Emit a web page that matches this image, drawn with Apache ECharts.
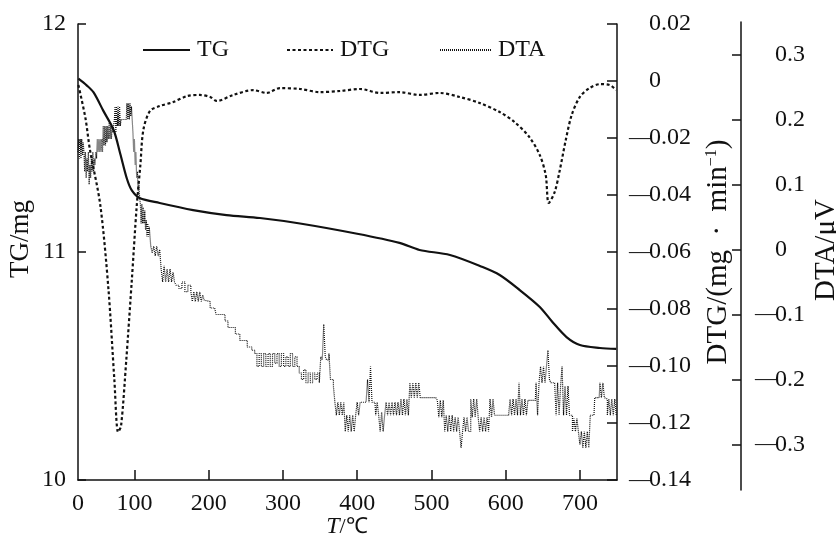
<!DOCTYPE html>
<html>
<head>
<meta charset="utf-8">
<script src="https://cdn.jsdelivr.net/npm/echarts@6/dist/echarts.min.js"></script>
<style>html,body{margin:0;padding:0;background:#fff}#c{width:836px;height:541px}</style>
</head>
<body>
<div id="c"></div>
<script>
// ---- data ----
const xTickLabels = [24, 100, 200, 300, 400, 500, 600, 700];
const tgT = [24.5, 36, 45, 58, 72, 81, 90, 96.5, 107, 134, 179, 224, 269, 323, 400, 457, 484, 525, 569, 592, 619, 646, 663, 682, 700, 727, 749];
const tgV = [11.76, 11.73, 11.70, 11.62, 11.535, 11.43, 11.32, 11.27, 11.237, 11.215, 11.184, 11.162, 11.149, 11.125, 11.08, 11.04, 11.009, 10.987, 10.934, 10.899, 10.833, 10.759, 10.693, 10.627, 10.592, 10.579, 10.575];
const dtgT = [24.5, 34, 40, 54, 65, 73, 78, 82, 89, 96.5, 103, 108, 112, 121, 134, 152, 171, 188, 202, 211, 233, 260, 278, 296, 323, 350, 377, 404, 431, 457, 484, 511, 538, 565, 592, 612, 632, 646, 654, 658, 666, 673, 681, 689, 700, 713, 727, 740, 749];
const dtgV = [-0.0014, -0.013, -0.024, -0.0435, -0.073, -0.105, -0.1232, -0.121, -0.098, -0.0698, -0.0442, -0.0295, -0.0172, -0.0105, -0.0088, -0.0074, -0.0053, -0.0049, -0.0056, -0.007, -0.0049, -0.0032, -0.0042, -0.0025, -0.0028, -0.0039, -0.0035, -0.0028, -0.0042, -0.0039, -0.0049, -0.0042, -0.0056, -0.0077, -0.0109, -0.0144, -0.0197, -0.026, -0.033, -0.0428, -0.039, -0.0312, -0.0207, -0.0119, -0.0056, -0.0025, -0.0011, -0.0014, -0.0032];
const dtaT = [24,25,26,27,28,29,30,31,32,33,34,35,36,37,38,39,40,41,42,43,44,45,46,47,48,49,50,51,52,53,54,55,56,57,58,59,60,61,62,63,64,65,66,67,68,69,70,71,73,74,75,76,77,78,79,80,81,82,83,89,90,91,92,93,94,95,96,97,98,99,100,101,102,103,104,105,106,107,108,109,110,111,112,113,114,115,116,117,118,119,120,121,122,124,126,128,130,132,134,136,138,140,142,144,146,148,150,152,154,156,160,164,168,172,176,178,180,182,184,186,188,190,192,194,196,202,208,210,216,222,226,232,236,242,248,252,258,262,265,268,271,274,277,280,283,286,289,292,295,298,301,304,307,310,313,316,319,322,325,328,331,334,337,340,343,346,349,351,353,355,357,359,362,364,368,370,372,374,376,378,380,382,384,386,388,390,392,394,396,398,400,402,404,412,414,416,418,420,424,425,427,429,431,433,435,437,439,441,443,445,447,449,451,453,455,457,459,461,463,465,467,469,471,473,475,477,479,481,483,485,487,506,508,510,512,514,516,518,520,522,524,526,528,530,532,534,536,538,540,542,544,546,548,550,553,555,557,559,561,563,565,567,569,571,573,575,577,579,581,583,585,604,606,608,610,612,614,616,618,620,622,624,626,628,630,640,641,643,645,647,649,651,653,655,657,659,661,666,668,670,672,674,676,678,680,682,684,686,688,690,692,694,696,698,700,702,704,706,708,710,712,714,719,720,726,727,729,731,733,735,737,739,741,743,745,747,749];
const dtaV = [0.15,0.17,0.14,0.17,0.14,0.17,0.145,0.165,0.15,0.12,0.15,0.11,0.14,0.12,0.15,0.10,0.13,0.11,0.14,0.12,0.15,0.12,0.14,0.13,0.15,0.14,0.17,0.15,0.17,0.15,0.17,0.15,0.17,0.15,0.19,0.16,0.19,0.16,0.19,0.165,0.19,0.17,0.195,0.17,0.19,0.17,0.19,0.18,0.20,0.22,0.18,0.22,0.19,0.22,0.19,0.22,0.19,0.20,0.20,0.20,0.225,0.20,0.225,0.20,0.225,0.205,0.22,0.20,0.18,0.15,0.17,0.13,0.15,0.11,0.12,0.09,0.10,0.08,0.07,0.04,0.07,0.04,0.065,0.04,0.06,0.03,0.045,0.02,0.04,0.02,0.035,0.02,0.005,-0.005,0.005,-0.01,0.005,-0.01,0.0,-0.03,-0.05,-0.025,-0.05,-0.03,-0.05,-0.03,-0.05,-0.035,-0.05,-0.055,-0.06,-0.05,-0.065,-0.055,-0.065,-0.08,-0.065,-0.08,-0.065,-0.08,-0.065,-0.08,-0.07,-0.078,-0.08,-0.09,-0.09,-0.10,-0.10,-0.11,-0.12,-0.12,-0.13,-0.14,-0.14,-0.15,-0.155,-0.16,-0.18,-0.16,-0.18,-0.16,-0.18,-0.16,-0.18,-0.16,-0.175,-0.16,-0.18,-0.16,-0.18,-0.165,-0.18,-0.16,-0.18,-0.165,-0.18,-0.19,-0.20,-0.185,-0.205,-0.19,-0.205,-0.19,-0.20,-0.19,-0.205,-0.165,-0.17,-0.115,-0.165,-0.17,-0.16,-0.20,-0.21,-0.235,-0.255,-0.235,-0.255,-0.235,-0.255,-0.235,-0.28,-0.255,-0.28,-0.255,-0.28,-0.255,-0.28,-0.255,-0.235,-0.255,-0.235,-0.235,-0.20,-0.235,-0.18,-0.235,-0.235,-0.255,-0.235,-0.255,-0.28,-0.25,-0.28,-0.255,-0.235,-0.255,-0.235,-0.255,-0.235,-0.255,-0.235,-0.255,-0.235,-0.255,-0.23,-0.255,-0.23,-0.255,-0.23,-0.255,-0.205,-0.228,-0.205,-0.228,-0.205,-0.228,-0.205,-0.228,-0.228,-0.228,-0.232,-0.258,-0.232,-0.258,-0.232,-0.28,-0.255,-0.28,-0.255,-0.28,-0.255,-0.28,-0.258,-0.28,-0.258,-0.28,-0.305,-0.28,-0.258,-0.28,-0.258,-0.28,-0.23,-0.258,-0.23,-0.258,-0.23,-0.258,-0.28,-0.258,-0.28,-0.258,-0.28,-0.258,-0.28,-0.23,-0.258,-0.23,-0.255,-0.255,-0.23,-0.255,-0.23,-0.255,-0.23,-0.255,-0.205,-0.255,-0.23,-0.255,-0.23,-0.255,-0.232,-0.232,-0.205,-0.255,-0.205,-0.18,-0.205,-0.18,-0.205,-0.18,-0.155,-0.20,-0.205,-0.205,-0.255,-0.205,-0.255,-0.21,-0.18,-0.255,-0.21,-0.255,-0.21,-0.255,-0.255,-0.28,-0.26,-0.28,-0.26,-0.28,-0.30,-0.28,-0.305,-0.28,-0.305,-0.28,-0.305,-0.255,-0.255,-0.228,-0.228,-0.205,-0.228,-0.205,-0.228,-0.23,-0.255,-0.23,-0.255,-0.23,-0.255,-0.23,-0.255];
const dtgTicks = [-0.14, -0.12, -0.10, -0.08, -0.06, -0.04, -0.02, 0, 0.02];
const dtaTicks = [-0.3, -0.2, -0.1, 0, 0.1, 0.2, 0.3];
const seriesNames = ['TG', 'DTG', 'DTA'];

const zip = (a, b) => a.map((v, i) => [v, b[i]]);
const FONT = 'Liberation Serif';
const fmtSigned = (d) => (v) => {
  const a = Math.abs(v);
  const s = a < 1e-9 ? '0' : a.toFixed(d);
  return v < -1e-9 ? '{m|—}{n|' + s + '}' : '{p| }{n|' + s + '}';
};
const signedRich = {
  m: { width: 20, fontSize: 22, fontFamily: FONT, color: '#111', align: 'left' },
  p: { width: 20, fontSize: 22, fontFamily: FONT },
  n: { fontSize: 24, fontFamily: FONT, color: '#111' }
};
const legendBase = { top: 38, padding: 0, itemHeight: 14, itemGap: 0,
  itemStyle: { opacity: 0 },
  textStyle: { fontSize: 24, fontFamily: FONT, color: '#111', padding: [0, 0, 0, 2] } };

const chart = echarts.init(document.getElementById('c'), null, { renderer: 'canvas' });
const axisLineStyle = { color: '#111', width: 1.5 };
chart.setOption({
  animation: false,
  backgroundColor: '#fff',
  grid: [
    { left: 78, right: 219, top: 24, bottom: 61 },
    { left: 78, right: 219, top: 22, bottom: 51 }
  ],
  legend: [
    Object.assign({}, legendBase, { data: [seriesNames[0]], left: 142, itemWidth: 47 }),
    Object.assign({}, legendBase, { data: [seriesNames[1]], left: 286, itemWidth: 46 }),
    Object.assign({}, legendBase, { data: [seriesNames[2]], left: 439, itemWidth: 51 })
  ],
  xAxis: [
    { type: 'value', gridIndex: 0, min: 24, max: 750,
      axisLine: { onZero: false, lineStyle: axisLineStyle },
      axisTick: { inside: true, length: 10, customValues: xTickLabels.slice(1), lineStyle: axisLineStyle },
      axisLabel: { customValues: xTickLabels, margin: 12, fontSize: 24, fontFamily: FONT, color: '#111',
        formatter: (v) => (v < 50 ? '0' : String(v)) },
      splitLine: { show: false } },
    { type: 'value', gridIndex: 1, min: 24, max: 750, show: false, axisLine: { onZero: false } }
  ],
  yAxis: [
    { type: 'value', gridIndex: 0, position: 'left', min: 10, max: 12, interval: 1,
      axisLine: { show: true, onZero: false, lineStyle: axisLineStyle },
      axisTick: { show: true, inside: true, length: 8, lineStyle: axisLineStyle },
      axisLabel: { margin: 12, fontSize: 24, fontFamily: FONT, color: '#111' },
      splitLine: { show: false } },
    { type: 'value', gridIndex: 0, position: 'right', min: -0.14, max: 0.02,
      axisLine: { show: true, onZero: false, lineStyle: axisLineStyle },
      axisTick: { show: true, inside: true, length: 10, customValues: dtgTicks, lineStyle: axisLineStyle },
      axisLabel: { customValues: dtgTicks, margin: 12, formatter: fmtSigned(2), rich: signedRich, align: 'left' },
      splitLine: { show: false } },
    { type: 'value', gridIndex: 1, position: 'right', offset: 124, min: -0.37, max: 0.35,
      axisLine: { show: true, onZero: false, lineStyle: axisLineStyle },
      axisTick: { show: true, inside: true, length: 9, customValues: dtaTicks, lineStyle: axisLineStyle },
      axisLabel: { customValues: dtaTicks, margin: 14, formatter: fmtSigned(1), rich: signedRich, align: 'left' },
      splitLine: { show: false } }
  ],
  series: [
    { name: seriesNames[0], type: 'line', xAxisIndex: 0, yAxisIndex: 0, data: zip(tgT, tgV),
      smooth: 0.3, symbol: 'none', lineStyle: { color: '#111', width: 2.2 }, itemStyle: { color: '#111' }, z: 5 },
    { name: seriesNames[1], type: 'line', xAxisIndex: 0, yAxisIndex: 1, data: zip(dtgT, dtgV),
      smooth: 0.3, symbol: 'none', lineStyle: { color: '#111', width: 2.2, type: [3, 2.5] }, itemStyle: { color: '#111' }, z: 4 },
    { name: seriesNames[2], type: 'line', xAxisIndex: 1, yAxisIndex: 2, data: zip(dtaT, dtaV),
      step: 'end', symbol: 'none', lineStyle: { color: '#111', width: 1.2, type: [1, 1] }, itemStyle: { color: '#111' }, z: 3 }
  ],
  graphic: [
    { type: 'text', x: 21, y: 239, rotation: Math.PI / 2,
      style: { text: 'TG/mg', fontSize: 27, fontFamily: FONT, fill: '#111', align: 'center', verticalAlign: 'middle' } },
    { type: 'text', x: 347, y: 527,
      style: { text: '{i|T}/℃', fill: '#111', align: 'center', verticalAlign: 'middle', fontSize: 22, fontFamily: FONT,
        rich: { i: { fontStyle: 'italic', fontSize: 24, fontFamily: FONT } } } },
    { type: 'text', x: 718, y: 252, rotation: Math.PI / 2,
      style: { text: 'DTG/(mg\u2002·\u2002min{s|−1})', fill: '#111', align: 'center', verticalAlign: 'middle', fontSize: 29, fontFamily: FONT,
        rich: { s: { fontSize: 16, fontFamily: FONT, verticalAlign: 'top', padding: [0, 0, 12, 0] } } } },
    { type: 'text', x: 826, y: 250, rotation: Math.PI / 2,
      style: { text: 'DTA/μV', fontSize: 29, fontFamily: FONT, fill: '#111', align: 'center', verticalAlign: 'middle' } }
  ]
});
</script>
</body>
</html>
